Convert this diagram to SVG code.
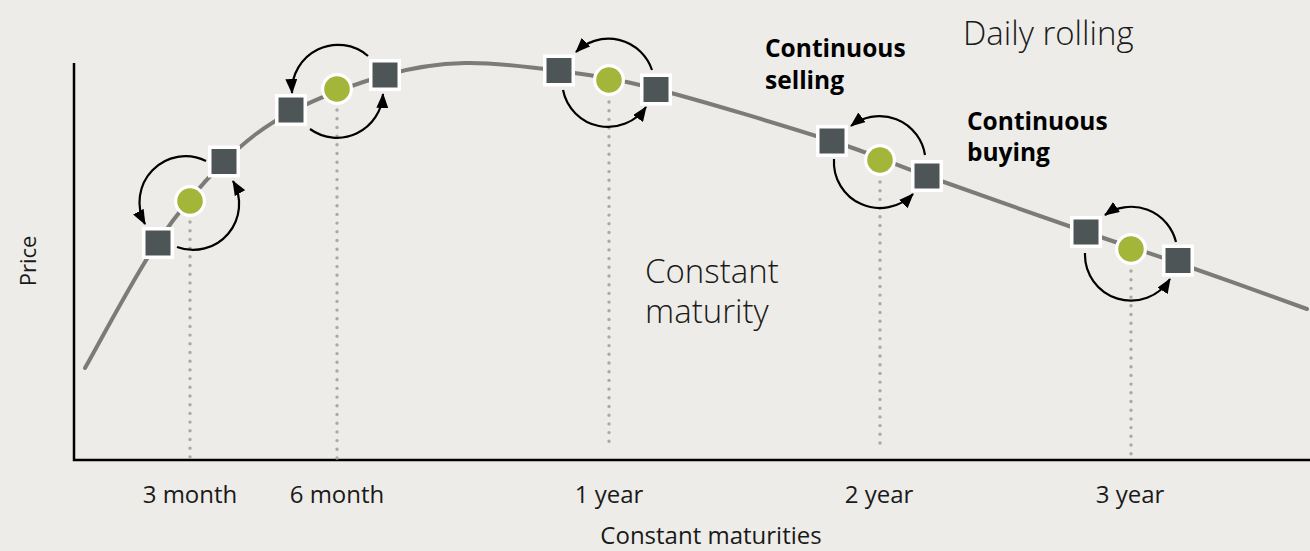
<svg xmlns="http://www.w3.org/2000/svg" width="1310" height="551" viewBox="0 0 1310 551">
<style>
  .sq{fill:#4e5557;stroke:#ffffff;stroke-width:3.5}
  .dot{fill:#a4b63a;stroke:#ffffff;stroke-width:3.2}
  .arc{fill:none;stroke:#000000;stroke-width:2.2;marker-end:url(#ah)}
  .drop{fill:none;stroke:#a9a9a6;stroke-width:3.4;stroke-linecap:round;stroke-dasharray:0 8.7}
  .t{font-family:"Open Sans","Noto Sans","Liberation Sans",sans-serif;fill:#1a1a1a}
  .tick{font-size:24px;font-weight:400;text-anchor:middle}
  .big{font-size:33px;font-weight:300}
  .bold{font-size:24.5px;font-weight:700;fill:#000}
</style>
<defs>
  <marker id="ah" markerUnits="userSpaceOnUse" markerWidth="15" markerHeight="12" viewBox="0 0 15 12" refX="14" refY="6" orient="auto">
    <path d="M0,0 L15,6 L0,12 z" fill="#000"/>
  </marker>
</defs>
<rect width="1310" height="551" fill="#edece8"/>

<!-- axes -->
<g id="axes" stroke="#000" stroke-width="2.5" fill="none">
  <path d="M74,63 V460 H1310"/>
</g>

<!-- price curve -->
<path id="curve" fill="none" stroke="#7b7b77" stroke-width="4" stroke-linecap="round"
  d="M85,368 C97,347.2 133.8,277.3 157,243 C180.2,208.7 201.7,183.8 224,162 C246.3,140.2 264,126.5 291,112 C318,97.5 357,83.2 386,75 C415,66.8 436.2,63.7 465,63 C493.8,62.3 527.2,66.7 559,71 C590.8,75.3 610.5,77.3 656,89 C701.5,100.7 786.8,126.5 832,141 C877.2,155.5 884.7,160.8 927,176 C969.3,191.2 1044.2,217.5 1086,232 C1127.8,246.5 1141.2,250.2 1178,263 C1214.8,275.8 1285.5,301.3 1307,309"/>

<!-- dotted drop lines -->
<g id="drops">
  <line class="drop" x1="190" y1="222" x2="190" y2="458"/>
  <line class="drop" x1="337" y1="110" x2="337" y2="458"/>
  <line class="drop" x1="609" y1="102" x2="609" y2="449"/>
  <line class="drop" x1="880" y1="182" x2="880" y2="447"/>
  <line class="drop" x1="1131" y1="271" x2="1131" y2="460"/>
</g>

<!-- connectors -->
<g id="connectors">
  <path class="arc" d="M206,161 A46,46 0 0 0 145,224"/>
  <path class="arc" d="M177,247 A46,46 0 0 0 233,181"/>
  <path class="arc" d="M368,56 A46,46 0 0 0 292,93"/>
  <path class="arc" d="M310,129 A46,46 0 0 0 383,94"/>
  <path class="arc" d="M652,70 A46,46 0 0 0 576,52"/>
  <path class="arc" d="M563,90 A46,46 0 0 0 646,107"/>
  <path class="arc" d="M925,155 A46,46 0 0 0 851,126"/>
  <path class="arc" d="M834,159 A46,46 0 0 0 913,194"/>
  <path class="arc" d="M1176,242 A46,46 0 0 0 1105,215"/>
  <path class="arc" d="M1085,253 A46,46 0 0 0 1170,279"/>
</g>

<!-- nodes -->
<g id="m3-sell"><rect class="sq" x="209.75" y="147.25" width="28.5" height="28.5"/></g>
<g id="m3-buy"><rect class="sq" x="143.75" y="228.75" width="28.5" height="28.5"/></g>
<g id="m3"><circle class="dot" cx="190" cy="201" r="14.4"/></g>

<g id="m6-buy"><rect class="sq" x="276.75" y="95.75" width="28.5" height="28.5"/></g>
<g id="m6-sell"><rect class="sq" x="370.75" y="60.75" width="28.5" height="28.5"/></g>
<g id="m6"><circle class="dot" cx="337" cy="89" r="14.4"/></g>

<g id="y1-buy"><rect class="sq" x="544.75" y="56.25" width="28.5" height="28.5"/></g>
<g id="y1-sell"><rect class="sq" x="641.75" y="75.25" width="28.5" height="28.5"/></g>
<g id="y1"><circle class="dot" cx="609" cy="80" r="14.4"/></g>

<g id="y2-buy"><rect class="sq" x="817.75" y="126.75" width="28.5" height="28.5"/></g>
<g id="y2-sell"><rect class="sq" x="912.75" y="161.75" width="28.5" height="28.5"/></g>
<g id="y2"><circle class="dot" cx="880" cy="160" r="14.4"/></g>

<g id="y3-buy"><rect class="sq" x="1071.75" y="217.75" width="28.5" height="28.5"/></g>
<g id="y3-sell"><rect class="sq" x="1163.75" y="246.25" width="28.5" height="28.5"/></g>
<g id="y3"><circle class="dot" cx="1131" cy="249" r="14.4"/></g>

<!-- labels -->
<g id="labels">
  <text class="t big" x="963" y="45" font-size="34.5">Daily rolling</text>
  <text class="t bold" x="765" y="57">Continuous<tspan x="765" dy="32">selling</tspan></text>
  <text class="t bold" x="967" y="130">Continuous<tspan x="967" dy="31">buying</tspan></text>
  <text class="t big" x="645" y="283">Constant<tspan x="645" dy="40">maturity</tspan></text>
  <text class="t tick" x="190" y="503">3 month</text>
  <text class="t tick" x="337" y="503">6 month</text>
  <text class="t tick" x="609" y="503">1 year</text>
  <text class="t tick" x="879" y="503">2 year</text>
  <text class="t tick" x="1130" y="503">3 year</text>
  <text class="t tick" x="711" y="544">Constant maturities</text>
  <text class="t" x="0" y="0" font-size="22" text-anchor="middle" transform="translate(36,261) rotate(-90)">Price</text>
</g>
</svg>
